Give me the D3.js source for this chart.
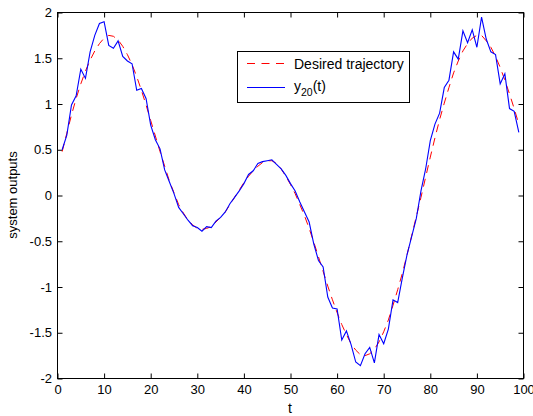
<!DOCTYPE html>
<html>
<head>
<meta charset="utf-8">
<script src="https://cdn.jsdelivr.net/npm/d3@7"></script>
<style>
body{margin:0;background:#fff;}
text{font-family:"Liberation Sans",Arial,sans-serif;}
</style>
</head>
<body>
<script>
var tValues = d3.range(1,100);
var desired = [0.48,0.68,0.88,1.06,1.22,1.36,1.48,1.58,1.66,1.72,
  1.75,1.74,1.70,1.63,1.54,1.43,1.30,1.15,0.99,0.82,
  0.65,0.48,0.32,0.16,0.03,-0.10,-0.19,-0.27,-0.32,-0.36,
  -0.37,-0.36,-0.34,-0.29,-0.24,-0.18,-0.10,-0.02,0.06,0.14,
  0.21,0.27,0.32,0.36,0.38,0.38,0.35,0.29,0.21,0.12,
  0.02,-0.10,-0.22,-0.36,-0.51,-0.67,-0.83,-0.99,-1.14,-1.28,
  -1.41,-1.52,-1.62,-1.69,-1.74,-1.75,-1.73,-1.68,-1.60,-1.49,
  -1.36,-1.20,-1.03,-0.85,-0.65,-0.44,-0.23,-0.02,0.20,0.42,
  0.63,0.83,1.01,1.18,1.34,1.47,1.58,1.66,1.72,1.75,
  1.75,1.69,1.62,1.52,1.40,1.26,1.11,0.95,0.78];
var y20 = [0.50,0.66,0.99,1.09,1.38,1.28,1.57,1.75,1.88,1.90,
  1.64,1.61,1.69,1.52,1.47,1.44,1.15,1.17,1.06,0.77,
  0.61,0.51,0.28,0.15,0.02,-0.13,-0.20,-0.27,-0.33,-0.35,
  -0.39,-0.34,-0.35,-0.28,-0.24,-0.18,-0.09,-0.02,0.05,0.13,
  0.23,0.27,0.35,0.37,0.38,0.39,0.34,0.29,0.22,0.13,
  0.05,-0.07,-0.18,-0.29,-0.53,-0.71,-0.78,-1.11,-1.23,-1.24,
  -1.58,-1.48,-1.63,-1.82,-1.86,-1.73,-1.66,-1.83,-1.52,-1.62,
  -1.46,-1.14,-1.17,-0.90,-0.65,-0.45,-0.25,0.05,0.29,0.60,
  0.78,0.90,1.18,1.26,1.57,1.49,1.80,1.67,1.81,1.62,
  1.95,1.71,1.57,1.54,1.22,1.33,0.95,0.92,0.69];
var xTicks = [0,10,20,30,40,50,60,70,80,90,100];
var yTicks = [-2,-1.5,-1,-0.5,0,0.5,1,1.5,2];
var seriesNames = ["Desired trajectory","y","20","(t)"];

var x = d3.scaleLinear().domain([0,100]).range([57.5,523.5]);
var y = d3.scaleLinear().domain([-2,2]).range([378.5,12.5]);

var svg = d3.select("body").append("svg").attr('width',533).attr('height',416);

// axes, ticks pointing inward
var gx = svg.append('g').attr('transform','translate(0,378.5)')
  .call(d3.axisBottom(x).tickValues(xTicks).tickSize(-5).tickSizeOuter(0).tickPadding(6).tickFormat(d3.format('d')));
var gy = svg.append('g').attr('transform','translate(57.5,0)')
  .call(d3.axisLeft(y).tickValues(yTicks).tickSize(-5).tickSizeOuter(0).tickPadding(5.5).tickFormat(function(d){return String(d);}));
var gt = svg.append('g').attr('transform','translate(0,12.5)')
  .call(d3.axisTop(x).tickValues(xTicks).tickSize(-5).tickSizeOuter(0).tickFormat(''));
var gr = svg.append('g').attr('transform','translate(523.5,0)')
  .call(d3.axisRight(y).tickValues(yTicks).tickSize(-5).tickSizeOuter(0).tickFormat(''));

[gx,gy,gt,gr].forEach(function(g){
  g.select('.domain').remove();
  g.selectAll('text').attr('font-size','13').attr('fill','#000').attr('font-family','"Liberation Sans",Arial,sans-serif');
  g.selectAll('line').attr('stroke','#000');
});

svg.append('rect')
  .attr('x',57.5).attr('y',12.5)
  .attr('width',466).attr('height',366)
  .attr('fill','none').attr('stroke','#000').attr('stroke-width',1);

var line = d3.line()
  .x(function(d,i){return x(tValues[i]);})
  .y(function(d){return y(d);});

svg.append('path')
  .attr('d',line(desired))
  .attr('fill','none')
  .attr('stroke','#ff0000')
  .attr('stroke-width',1)
  .attr('stroke-dasharray','8,6');

svg.append('path')
  .attr('d',line(y20))
  .attr('fill','none')
  .attr('stroke','#0000ff')
  .attr('stroke-width',1.1);

// legend
var lg = svg.append('g');
lg.append('rect')
  .attr('x',237.5).attr('y',51.5)
  .attr('width',172).attr('height',51)
  .attr('fill','#fff').attr('stroke','#000').attr('stroke-width',1);
lg.append('line')
  .attr('x1',247).attr('x2',284).attr('y1',63.5).attr('y2',63.5)
  .attr('stroke','#ff0000').attr('stroke-dasharray','8,6.5');
lg.append('line')
  .attr('x1',247).attr('x2',285).attr('y1',87.5).attr('y2',87.5)
  .attr('stroke','#0000ff').attr('stroke-width',1.1);
lg.append('text')
  .attr('x',294).attr('y',68.5)
  .attr('font-size','14')
  .text(seriesNames[0]);
var t2 = lg.append('text').attr('x',294).attr('y',91).attr('font-size','14');
t2.append('tspan').text(seriesNames[1]);
t2.append('tspan').attr('font-size','10.5').attr('dy',5).text(seriesNames[2]);
t2.append('tspan').attr('dy',-5).text(seriesNames[3]);

// axis titles
svg.append('text')
  .attr('x',290).attr('y',413)
  .attr('text-anchor','middle')
  .attr('font-size','14')
  .text('t');
svg.append('text')
  .attr('transform','translate(17,195) rotate(-90)')
  .attr('text-anchor','middle')
  .attr('font-size','13')
  .text('system outputs');
</script>
</body>
</html>
